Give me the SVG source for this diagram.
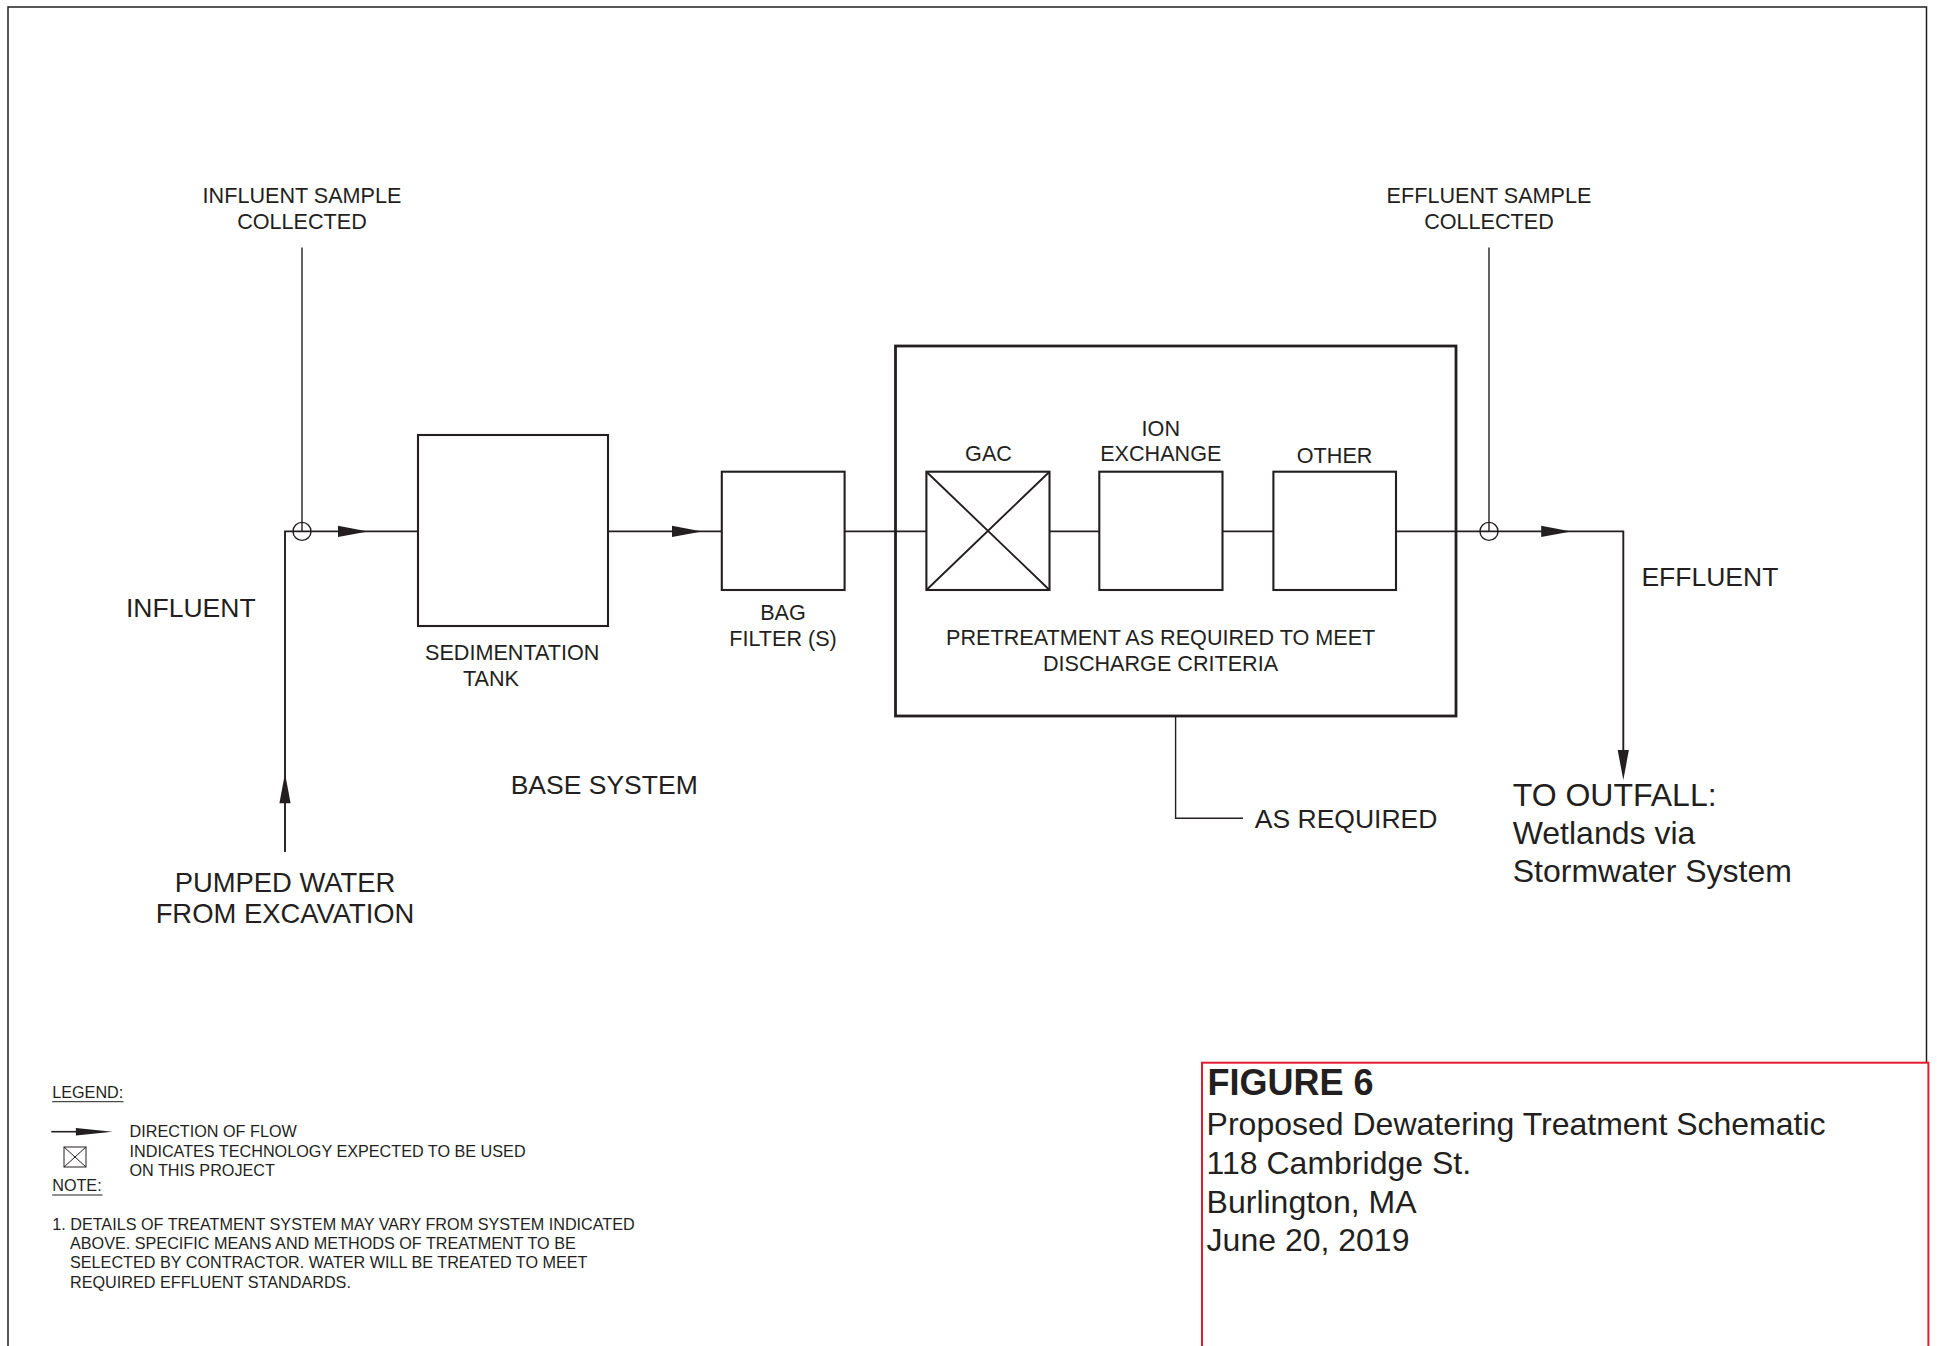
<svg xmlns="http://www.w3.org/2000/svg" width="1937" height="1346" viewBox="0 0 1937 1346">
  <style>
    text { font-family: "Liberation Sans", Arial, sans-serif; fill: #231f20; }
    .sm { font-size: 21.6px; }
    .lg { font-size: 26.5px; }
    .pw { font-size: 27.4px; }
    .xl { font-size: 32px; }
    .tiny { font-size: 16.2px; }
    .mid { text-anchor: middle; }
    .box { fill: none; stroke: #231f20; stroke-width: 2.1; }
    .frame { fill: none; stroke: #231f20; stroke-width: 2.8; }
    .flow { fill: none; stroke: #231f20; stroke-width: 1.9; }
    .thin { fill: none; stroke: #231f20; stroke-width: 1.4; }
    .ah { fill: #231f20; stroke: none; }
  </style>
  <defs>
    <path id="ah" d="M-30,-5.6 L0,0 L-30,5.6 Z"/>
  </defs>
  <rect width="1937" height="1346" fill="#ffffff"/>
  <!-- page border -->
  <rect x="8" y="7" width="1918.5" height="1360" fill="none" stroke="#231f20" stroke-width="1.5"/>

  <g id="connectors">
    <!-- influent line -->
    <path class="flow" d="M285,852 V531.4 H418"/>
    <use href="#ah" class="ah" x="368" y="531.4"/>
    <use href="#ah" class="ah" transform="translate(285,773.3) rotate(-90)"/>
    <!-- influent sample -->
    <path class="thin" d="M302,247.5 V531.4"/>
    <circle cx="302" cy="531.4" r="9" fill="none" stroke="#231f20" stroke-width="1.4"/>
    <!-- sed tank to bag filter -->
    <path class="flow" d="M608,531.4 H721.8"/>
    <use href="#ah" class="ah" x="702" y="531.4"/>
    <!-- bag filter to GAC -->
    <path class="flow" d="M844.6,531.4 H926.4"/>
    <!-- GAC to ION -->
    <path class="flow" d="M1049.5,531.4 H1099.3"/>
    <!-- ION to OTHER -->
    <path class="flow" d="M1222.5,531.4 H1273.4"/>
    <!-- OTHER to effluent -->
    <path class="flow" d="M1396,531.4 H1623.3 V760"/>
    <use href="#ah" class="ah" x="1571.2" y="531.4"/>
    <use href="#ah" class="ah" transform="translate(1623.3,780) rotate(90)"/>
    <!-- effluent sample -->
    <path class="thin" d="M1489,247.5 V531.4"/>
    <circle cx="1489" cy="531.4" r="9" fill="none" stroke="#231f20" stroke-width="1.4"/>
    <!-- as required leader -->
    <path class="thin" d="M1175.6,716 V818.3 H1243"/>
  </g>

  <g id="influent-sample">
    <text class="sm mid" x="302" y="203">INFLUENT SAMPLE</text>
    <text class="sm mid" x="302" y="228.6">COLLECTED</text>
  </g>
  <g id="effluent-sample">
    <text class="sm mid" x="1489" y="203">EFFLUENT SAMPLE</text>
    <text class="sm mid" x="1489" y="228.6">COLLECTED</text>
  </g>
  <g id="influent">
    <text class="lg" x="126" y="617">INFLUENT</text>
  </g>
  <g id="pumped-water">
    <text class="pw mid" x="285" y="891.7">PUMPED WATER</text>
    <text class="pw mid" x="285" y="923.3">FROM EXCAVATION</text>
  </g>
  <g id="sedimentation-tank">
    <rect class="box" x="418" y="435" width="190" height="191"/>
    <text class="sm" x="425" y="660">SEDIMENTATION</text>
    <text class="sm" x="463" y="685.7">TANK</text>
  </g>
  <g id="base-system">
    <text class="lg" x="510.7" y="794">BASE SYSTEM</text>
  </g>
  <g id="bag-filter">
    <rect class="box" x="721.8" y="471.7" width="122.8" height="118.3"/>
    <text class="sm mid" x="783" y="620">BAG</text>
    <text class="sm mid" x="783" y="646">FILTER (S)</text>
  </g>
  <g id="pretreatment">
    <rect class="frame" x="895.5" y="346" width="560.5" height="370"/>
    <text class="sm mid" x="1160.7" y="645">PRETREATMENT AS REQUIRED TO MEET</text>
    <text class="sm mid" x="1160.5" y="670.7">DISCHARGE CRITERIA</text>
  </g>
  <g id="gac">
    <rect class="box" x="926.4" y="471.7" width="123.1" height="118.3"/>
    <path class="flow" d="M926.4,471.7 L1049.5,590 M1049.5,471.7 L926.4,590"/>
    <text class="sm mid" x="988.5" y="460.7">GAC</text>
  </g>
  <g id="ion-exchange">
    <rect class="box" x="1099.3" y="471.7" width="123.2" height="118.3"/>
    <text class="sm mid" x="1160.8" y="436">ION</text>
    <text class="sm mid" x="1160.8" y="460.7">EXCHANGE</text>
  </g>
  <g id="other">
    <rect class="box" x="1273.4" y="471.7" width="122.6" height="118.3"/>
    <text class="sm mid" x="1334.6" y="462.7">OTHER</text>
  </g>
  <g id="effluent">
    <text class="lg" x="1641.4" y="585.7">EFFLUENT</text>
  </g>
  <g id="as-required">
    <text class="lg" x="1254.8" y="828.3">AS REQUIRED</text>
  </g>
  <g id="outfall">
    <text class="xl" x="1512.7" y="806">TO OUTFALL:</text>
    <text class="xl" x="1512.7" y="844">Wetlands via</text>
    <text class="xl" x="1512.7" y="882">Stormwater System</text>
  </g>

  <g id="legend">
    <text class="tiny" x="52.2" y="1097.7">LEGEND:</text>
    <path d="M52.2,1101.7 H123.5" stroke="#231f20" stroke-width="1"/>
    <path d="M51.3,1131.7 H80" stroke="#231f20" stroke-width="1.6"/>
    <path class="ah" d="M75.9,1127.9 L112.5,1131.7 L75.9,1135.5 Z"/>
    <text class="tiny" x="129.5" y="1137.3">DIRECTION OF FLOW</text>
    <rect x="64" y="1147" width="22" height="20" fill="none" stroke="#231f20" stroke-width="1"/>
    <path d="M64,1147 L86,1167 M86,1147 L64,1167" stroke="#231f20" stroke-width="1"/>
    <text class="tiny" x="129.5" y="1156.7">INDICATES TECHNOLOGY EXPECTED TO BE USED</text>
    <text class="tiny" x="129.5" y="1175.7">ON THIS PROJECT</text>
    <text class="tiny" x="52.2" y="1191">NOTE:</text>
    <path d="M52.2,1195 H102.5" stroke="#231f20" stroke-width="1"/>
    <text class="tiny" x="52.2" y="1230">1. DETAILS OF TREATMENT SYSTEM MAY VARY FROM SYSTEM INDICATED</text>
    <text class="tiny" x="70" y="1249">ABOVE. SPECIFIC MEANS AND METHODS OF TREATMENT TO BE</text>
    <text class="tiny" x="70" y="1268.3">SELECTED BY CONTRACTOR. WATER WILL BE TREATED TO MEET</text>
    <text class="tiny" x="70" y="1287.7">REQUIRED EFFLUENT STANDARDS.</text>
  </g>

  <g id="title-block">
    <rect x="1202" y="1062.7" width="726.4" height="320" fill="#ffffff" stroke="#e31b2f" stroke-width="2"/>
    <text x="1207.5" y="1095" style="font-size:36px;font-weight:bold">FIGURE 6</text>
    <text class="xl" x="1206.6" y="1135">Proposed Dewatering Treatment Schematic</text>
    <text class="xl" x="1206.6" y="1174">118 Cambridge St.</text>
    <text class="xl" x="1206.6" y="1212.7">Burlington, MA</text>
    <text class="xl" x="1206.6" y="1250.7">June 20, 2019</text>
  </g>
</svg>
